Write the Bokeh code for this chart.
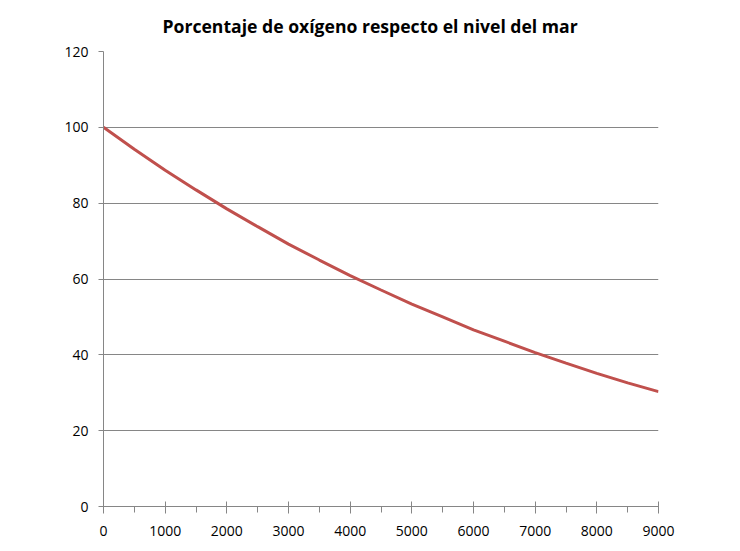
from bokeh.plotting import figure
from bokeh.models import Range1d, FixedTicker, ColumnDataSource
from bokeh.embed import file_html
from bokeh.resources import INLINE

# Data (altitude in m, % oxygen relative to sea level)
altitudes = [0, 500, 1000, 1500, 2000, 2500, 3000, 3500, 4000, 4500,
             5000, 5500, 6000, 6500, 7000, 7500, 8000, 8500, 9000]
oxygen_pct = [100.0, 94.2, 88.7, 83.5, 78.5, 73.8, 69.2, 65.0, 60.9, 57.1,
              53.4, 50.0, 46.6, 43.6, 40.6, 37.8, 35.1, 32.6, 30.3]
x_ticks = [0, 1000, 2000, 3000, 4000, 5000, 6000, 7000, 8000, 9000]
x_minor = [500, 1500, 2500, 3500, 4500, 5500, 6500, 7500, 8500]
y_ticks = [0, 20, 40, 60, 80, 100, 120]
title_text = "Porcentaje de oxígeno respecto el nivel del mar"

GRAY = "#868686"
FONT = "Open Sans"

p = figure(width=724, height=543, output_backend="svg", toolbar_location=None,
           x_range=Range1d(0, 9000), y_range=Range1d(0, 120),
           min_border_left=103, min_border_right=66, min_border_top=51,
           min_border_bottom=37)

p.title.text = title_text
p.title.align = "left"
p.title.offset = 59
p.title.standoff = 24
p.title.vertical_align = "top"
p.title.text_font = FONT
p.title.text_font_style = "bold"
p.title.text_font_size = "17.6px"
p.title.text_color = "#000000"

p.outline_line_color = None
p.background_fill_color = "white"
p.border_fill_color = "white"

p.xgrid.visible = False
p.ygrid.grid_line_color = GRAY
p.ygrid.grid_line_width = 1
p.ygrid.ticker = FixedTicker(ticks=y_ticks)

p.xaxis.ticker = FixedTicker(ticks=x_ticks, minor_ticks=x_minor)
p.yaxis.ticker = FixedTicker(ticks=y_ticks)

for ax in (p.xaxis[0], p.yaxis[0]):
    ax.axis_line_color = GRAY
    ax.axis_line_width = 1
    ax.major_tick_line_color = GRAY
    ax.minor_tick_line_color = GRAY
    ax.major_label_text_font = FONT
    ax.major_label_text_font_size = "14px"
    ax.major_label_text_color = "#000000"

p.xaxis.major_tick_in = 5
p.xaxis.major_tick_out = 7
p.xaxis.minor_tick_in = 0
p.xaxis.minor_tick_out = 6
p.xaxis.major_label_standoff = 12

p.yaxis.major_tick_in = 0
p.yaxis.major_tick_out = 5
p.yaxis.minor_tick_line_color = None
p.yaxis.major_label_standoff = 10

src = ColumnDataSource(dict(x=altitudes, y=oxygen_pct))
p.line("x", "y", source=src, line_color="#C0504D", line_width=3)

open("out.html", "w").write(file_html(p, INLINE))
